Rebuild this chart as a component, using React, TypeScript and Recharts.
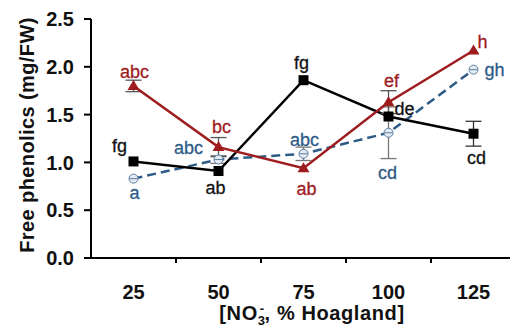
import React from 'react';
import { LineChart, Line, XAxis, YAxis, ErrorBar, LabelList } from 'recharts';

const categories = ['25', '50', '75', '100', '125'];
const yTicks = [0, 0.5, 1.0, 1.5, 2.0, 2.5];

const blackValues = [1.01, 0.91, 1.86, 1.48, 1.3];
const blackErrors = [0, 0, 0, 0, 0.13];
const blackLetters = ['fg', 'ab', 'fg', 'de', 'cd'];

const redValues = [1.8, 1.16, 0.94, 1.63, 2.17];
const redErrors = [0.06, 0.1, 0, 0.12, 0];
const redLetters = ['abc', 'bc', 'ab', 'ef', 'h'];

const blueValues = [0.83, 1.03, 1.09, 1.31, 1.97];
const blueErrors = [0, 0.04, 0.07, 0.27, 0];
const blueLetters = ['a', 'abc', 'abc', 'cd', 'gh'];

// where each letter sits relative to its point (dx, dy in px)
const blackLabelPos = [[-14, -15], [-3, 17], [-2, -17], [16, -8], [3, 24]];
const redLabelPos = [[1, -14], [3, -20], [3, 21], [3, -21], [9, -9]];
const blueLabelPos = [[1, 14], [-30, -12], [1, -14], [-1, 40], [21, 0]];

const RED = '#9e1b1e';
const BLUE = '#2d5b88';
const FONT = '"Liberation Sans", Arial, sans-serif';

const data = categories.map((c, i) => ({
  cat: c,
  black: blackValues[i],
  blackErr: blackErrors[i],
  blackLbl: blackLetters[i],
  red: redValues[i],
  redErr: redErrors[i],
  redLbl: redLetters[i],
  blue: blueValues[i],
  blueErr: blueErrors[i],
  blueLbl: blueLetters[i],
}));

const BAND = 85;

const SquareDot = (p: any) => {
  if (p.cx == null) return null;
  return <rect x={p.cx - 5} y={p.cy - 5} width={10} height={10} fill="#000" />;
};

const TriangleDot = (p: any) => {
  if (p.cx == null) return null;
  const { cx, cy } = p;
  return <polygon points={`${cx},${cy - 6} ${cx + 6},${cy + 4} ${cx - 6},${cy + 4}`} fill={RED} />;
};

const CircleDot = (p: any) => {
  if (p.cx == null) return null;
  const { cx, cy } = p;
  return (
    <g>
      <circle cx={cx} cy={cy} r={4.5} fill="#e4eaf1" stroke="#5b7ea3" strokeWidth={1} />
      <line x1={cx - 4} x2={cx + 4} y1={cy} y2={cy} stroke="#5b7ea3" strokeWidth={1} />
    </g>
  );
};

const letterLabel = (pos: number[][], color: string) => (p: any) => {
  const [dx, dy] = pos[p.index] || [0, 0];
  return (
    <text
      x={p.x + dx}
      y={p.y + dy}
      textAnchor="middle"
      dominantBaseline="central"
      fill={color}
      stroke={color}
      strokeWidth={0.3}
      fontSize={18}
      fontFamily={FONT}
    >
      {p.value}
    </text>
  );
};

const XTick = (p: any) => {
  const { x, y, payload, index } = p;
  return (
    <g>
      {index > 0 && (
        <line x1={x - BAND / 2} x2={x - BAND / 2} y1={y - 6} y2={y - 1} stroke="#000" strokeWidth={2} />
      )}
      <text x={x} y={y + 35} textAnchor="middle" fontSize={20} fontWeight="bold" fontFamily={FONT} fill="#111">
        {payload.value}
      </text>
    </g>
  );
};

export default function App() {
  return (
    <div style={{ position: 'absolute', left: 0, top: 0, width: 510, height: 325, overflow: 'hidden', background: '#fff', fontFamily: FONT }}>
      <LineChart width={520} height={325} data={data} margin={{ top: 19, right: 4, bottom: 0, left: 0 }}>
        <XAxis
          dataKey="cat"
          height={67}
          padding={{ left: BAND / 2, right: BAND / 2 }}
          interval={0}
          tickLine={false}
          tickSize={6}
          tickMargin={0}
          axisLine={{ stroke: '#000', strokeWidth: 2 }}
          tick={<XTick />}
        />
        <YAxis
          width={91}
          domain={[0, 2.5]}
          ticks={yTicks}
          tickFormatter={(v: number) => v.toFixed(1)}
          tickSize={7}
          tickMargin={10}
          axisLine={{ stroke: '#000', strokeWidth: 2 }}
          tickLine={{ stroke: '#000', strokeWidth: 2 }}
          tick={{ fontSize: 20, fontWeight: 'bold', fill: '#111', fontFamily: FONT }}
        />
        <Line
          dataKey="blue"
          stroke={BLUE}
          strokeWidth={2.5}
          strokeDasharray="9 5"
          dot={<CircleDot />}
          activeDot={false}
          isAnimationActive={false}
        >
          <ErrorBar dataKey="blueErr" width={8} stroke="#777" strokeWidth={1.3} direction="y" />
          <LabelList dataKey="blueLbl" content={letterLabel(blueLabelPos, BLUE)} />
        </Line>
        <Line
          dataKey="black"
          stroke="#000"
          strokeWidth={2.5}
          dot={<SquareDot />}
          activeDot={false}
          isAnimationActive={false}
        >
          <ErrorBar dataKey="blackErr" width={8} stroke="#333" strokeWidth={1.3} direction="y" />
          <LabelList dataKey="blackLbl" content={letterLabel(blackLabelPos, '#111')} />
        </Line>
        <Line
          dataKey="red"
          stroke={RED}
          strokeWidth={2.5}
          dot={<TriangleDot />}
          activeDot={false}
          isAnimationActive={false}
        >
          <ErrorBar dataKey="redErr" width={8} stroke="#555" strokeWidth={1.3} direction="y" />
          <LabelList dataKey="redLbl" content={letterLabel(redLabelPos, RED)} />
        </Line>
      </LineChart>
      <div
        style={{
          position: 'absolute',
          left: 27,
          top: 135,
          transform: 'translate(-50%, -50%) rotate(-90deg)',
          whiteSpace: 'nowrap',
          fontSize: 20,
          fontWeight: 'bold',
          letterSpacing: 0.4,
          color: '#111',
        }}
      >
        Free phenolics (mg/FW)
      </div>
      <div
        style={{
          position: 'absolute',
          left: 312,
          top: 314,
          transform: 'translate(-50%, -50%)',
          whiteSpace: 'nowrap',
          fontSize: 20,
          fontWeight: 'bold',
          letterSpacing: 0.6,
          color: '#111',
          lineHeight: '17px',
        }}
      >
        [NO<span style={{ fontSize: 13, position: 'relative', top: 5 }}>3</span>
        <span style={{ fontSize: 13, position: 'relative', top: -7, marginLeft: -6 }}>-</span>, % Hoagland]
      </div>
    </div>
  );
}
